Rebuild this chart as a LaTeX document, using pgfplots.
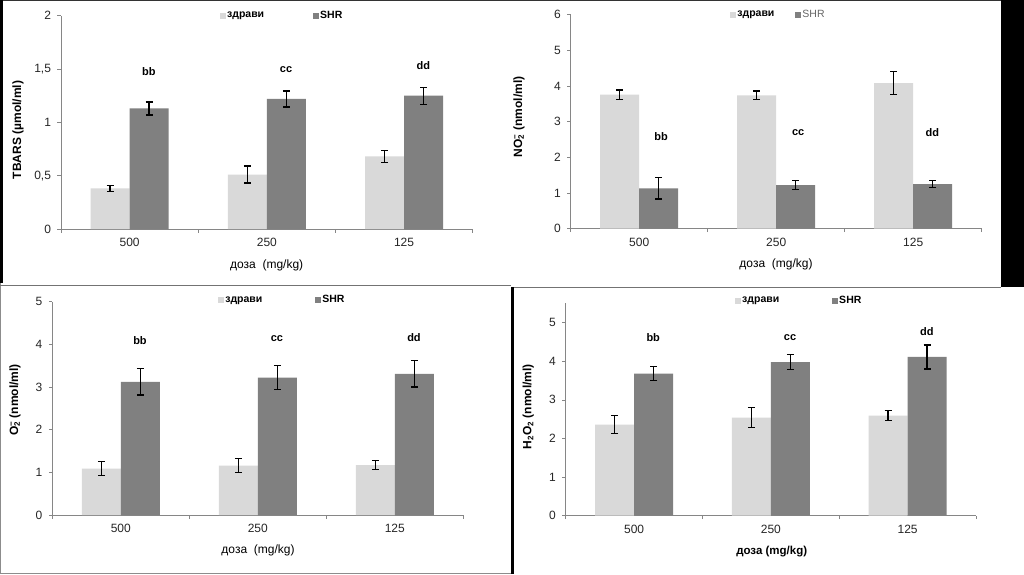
\documentclass[border=0pt]{standalone}
\usepackage{pgfplots}
\pgfplotsset{compat=1.18}
\usepackage{fontspec}
\setmainfont{Liberation Sans}

\definecolor{barlight}{RGB}{217,217,217}
\definecolor{bardark}{RGB}{128,128,128}
\definecolor{axgray}{RGB}{134,134,134}

\pgfplotsset{
  panel/.style={
    scale only axis,
    ybar=0pt, bar width=39pt,
    xmin=-0.5, xmax=2.5, ymin=0,
    enlargelimits=false,
    axis lines*=left,
    axis line style={axgray, line width=0.7pt},
    tick style={axgray, line width=0.7pt},
    tick align=outside,
    major tick length=3.5pt,
    xtick={-0.5,0.5,1.5,2.5}, xticklabels={},
    extra x ticks={0,1,2},
    extra x tick labels={500,250,125},
    extra x tick style={major tick length=0pt},
    tick label style={font=\fontsize{12}{14}\selectfont, black!85},
    xticklabel style={yshift=-6pt},
    yticklabel style={xshift=-3pt},
    /pgf/number format/assume math mode=true,
    ylabel style={font=\bfseries\fontsize{12}{14}\selectfont},
    xlabel style={font=\fontsize{12}{14}\selectfont},
    legend style={draw=none, fill=none, legend columns=2,
      font=\bfseries\fontsize{10.5}{12}\selectfont, anchor=west,
      inner sep=0pt, nodes={inner sep=1pt}},
    legend image code/.code={\fill[##1, draw=none] (0pt,-3pt) rectangle (6pt,3pt);},
    error bars/y dir=both, error bars/y explicit,
    error bars/error mark=-,
    error bars/error bar style={draw=black, line width=1.3pt},
    error bars/error mark options={draw=black, rotate=90, line width=1.3pt, mark size=3.5pt},
  },
  light/.style={fill=barlight, draw=none},
  dark/.style={fill=bardark, draw=none},
}

\newcommand{\ann}[3]{\node[font=\bfseries\fontsize{11}{13}\selectfont] at (axis cs:#1,#2) {#3};}

\begin{document}
\begin{tikzpicture}
\useasboundingbox (0pt,0pt) rectangle (1024pt,574pt);
\fill[white] (0pt,0pt) rectangle (1024pt,574pt);
% frame pieces of the pasted panels
\fill[black] (1001pt,574pt) rectangle (1024pt,287pt);
\fill[black!80] (0pt,574pt) rectangle (1001pt,572.5pt);
\fill[black] (0pt,574pt) rectangle (2.5pt,291pt);
\fill[black!45] (0pt,291pt) rectangle (1pt,0pt);
\fill[black!55] (0pt,289pt) rectangle (511pt,288pt);
\fill[black!55] (511pt,287.5pt) rectangle (1001pt,286.5pt);
\fill[black] (511pt,287.5pt) rectangle (514pt,0pt);
\fill[black!45] (0pt,1.2pt) rectangle (511pt,0pt);

% TBARS
\begin{axis}[panel, at={(61pt,345pt)}, anchor=south west,
  width=411.7pt, height=213.3pt, ymax=2,
  ytick={0,0.5,1,1.5,2},
  yticklabel style={/pgf/number format/.cd, use comma, fixed},
  ylabel={TBARS (µmol/ml)},
  ylabel style={at={(axis description cs:-0.1044,0.464)}, anchor=center},
  xlabel={доза\ \ (mg/kg)},
  xlabel style={at={(axis description cs:0.4996,-0.172)}, anchor=center},
  legend style={at={(axis description cs:0.386,1.0)},
    /tikz/every even column/.append style={column sep=48pt}},
]
\addplot[light] coordinates {(0,0.38) +- (0,0.03) (1,0.51) +- (0,0.08) (2,0.68) +- (0,0.055)};
\addlegendentry{здрави}
\addplot[dark] coordinates {(0,1.13) +- (0,0.06) (1,1.22) +- (0,0.075) (2,1.25) +- (0,0.08)};
\addlegendentry{SHR}
\ann{0.14}{1.48}{bb}
\ann{1.14}{1.49}{cc}
\ann{2.14}{1.53}{dd}
\end{axis}

% NO2-
\begin{axis}[panel, at={(570.7pt,345.3pt)}, anchor=south west,
  width=411pt, height=214pt, ymax=6,
  ytick={0,1,...,6},
  ylabel={NO\rlap{\textsubscript{2}}\textsuperscript{−}\ (nmol/ml)},
  ylabel style={at={(axis description cs:-0.126,0.523)}, anchor=center},
  xlabel={доза\ \ (mg/kg)},
  xlabel style={at={(axis description cs:0.4995,-0.165)}, anchor=center},
  legend style={at={(axis description cs:0.388,1.0)},
    /tikz/every even column/.append style={column sep=20pt}},
]
\addplot[light] coordinates {(0,3.76) +- (0,0.13) (1,3.74) +- (0,0.12) (2,4.08) +- (0,0.32)};
\addlegendentry{здрави}
\addplot[dark] coordinates {(0,1.13) +- (0,0.30) (1,1.22) +- (0,0.13) (2,1.25) +- (0,0.10)};
\addlegendentry{\mdseries\color{black!60}SHR}
\ann{0.16}{2.58}{bb}
\ann{1.16}{2.70}{cc}
\ann{2.14}{2.70}{dd}
\end{axis}

% O2-
\begin{axis}[panel, at={(52.3pt,59pt)}, anchor=south west,
  width=411pt, height=213.3pt, ymax=5,
  ytick={0,1,...,5},
  ylabel={O\rlap{\textsubscript{2}}\textsuperscript{−}\ (nmol/ml)},
  ylabel style={at={(axis description cs:-0.0907,0.539)}, anchor=center},
  xlabel={доза\ \ (mg/kg)},
  xlabel style={at={(axis description cs:0.5005,-0.167)}, anchor=center},
  legend style={at={(axis description cs:0.4035,1.008)},
    /tikz/every even column/.append style={column sep=52pt}},
]
\addplot[light] coordinates {(0,1.09) +- (0,0.16) (1,1.16) +- (0,0.16) (2,1.17) +- (0,0.10)};
\addlegendentry{здрави}
\addplot[dark] coordinates {(0,3.12) +- (0,0.31) (1,3.22) +- (0,0.28) (2,3.31) +- (0,0.31)};
\addlegendentry{SHR}
\ann{0.14}{4.08}{bb}
\ann{1.14}{4.14}{cc}
\ann{2.14}{4.17}{dd}
\end{axis}

% H2O2
\begin{axis}[panel, at={(565.7pt,58.3pt)}, anchor=south west,
  width=410.3pt, height=212.4pt, ymax=5.5,
  ytick={0,1,...,5},
  ylabel={H\textsubscript{2}O\textsubscript{2} (nmol/ml)},
  ylabel style={at={(axis description cs:-0.091,0.513)}, anchor=center},
  xlabel={доза (mg/kg)},
  xlabel style={at={(axis description cs:0.502,-0.169)}, anchor=center,
    font=\bfseries\fontsize{11.5}{14}\selectfont},
  legend style={at={(axis description cs:0.4126,1.012)},
    /tikz/every even column/.append style={column sep=52pt}},
]
\addplot[light] coordinates {(0,2.36) +- (0,0.24) (1,2.54) +- (0,0.26) (2,2.59) +- (0,0.13)};
\addlegendentry{здрави}
\addplot[dark] coordinates {(0,3.68) +- (0,0.18) (1,3.98) +- (0,0.20) (2,4.11) +- (0,0.31)};
\addlegendentry{SHR}
\ann{0.14}{4.62}{bb}
\ann{1.14}{4.60}{cc}
\ann{2.14}{4.77}{dd}
\end{axis}
\end{tikzpicture}
\end{document}
